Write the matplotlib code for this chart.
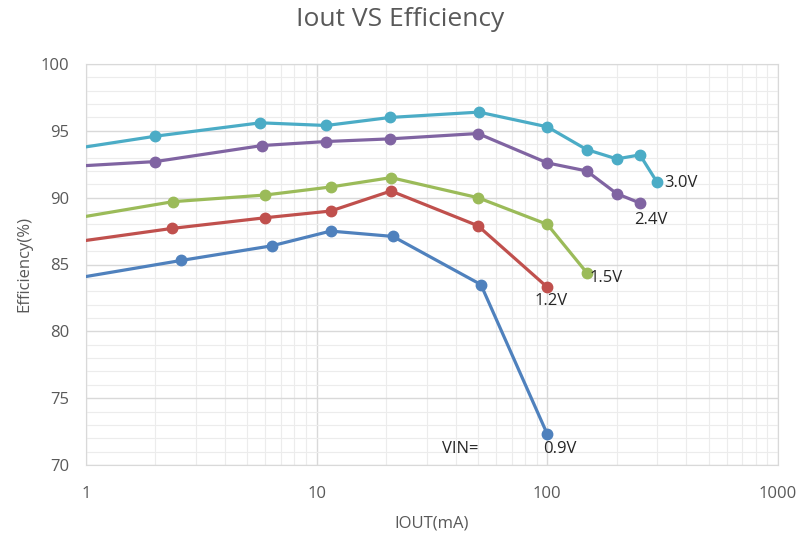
import numpy as np
import matplotlib.pyplot as plt
from matplotlib.ticker import LogLocator, MultipleLocator, NullFormatter

plt.rcParams['font.family'] = ['Open Sans', 'DejaVu Sans']

# data (first point of each series is the line start at the left edge)
iout_30 = [1, 2, 5.7, 11, 20.8, 50.5, 100, 148, 200, 252, 298]
eff_30 = [93.8, 94.6, 95.6, 95.4, 96.0, 96.4, 95.3, 93.6, 92.9, 93.2, 91.2]

iout_24 = [1, 2, 5.8, 11, 20.8, 50, 100, 148, 200, 252]
eff_24 = [92.4, 92.7, 93.9, 94.2, 94.4, 94.8, 92.6, 92.0, 90.3, 89.6]

iout_15 = [1, 2.38, 6.0, 11.5, 21, 50, 100, 148]
eff_15 = [88.6, 89.7, 90.2, 90.8, 91.5, 90.0, 88.0, 84.4]

iout_12 = [1, 2.36, 6.0, 11.5, 21, 50, 100]
eff_12 = [86.8, 87.7, 88.5, 89.0, 90.5, 87.9, 83.3]

iout_09 = [1, 2.58, 6.4, 11.5, 21.4, 51.5, 100]
eff_09 = [84.1, 85.3, 86.4, 87.5, 87.1, 83.5, 72.3]

series = [
    (iout_30, eff_30, '#4bacc6', '3.0V'),
    (iout_24, eff_24, '#8064a2', '2.4V'),
    (iout_15, eff_15, '#9bbb59', '1.5V'),
    (iout_12, eff_12, '#c0504d', '1.2V'),
    (iout_09, eff_09, '#4f81bd', '0.9V'),
]

fig = plt.figure(figsize=(8, 5.39), dpi=100)
ax = fig.add_axes([86/800, 1-465/539, (778-86)/800, (465-64)/539])

for x, y, c, lab in series:
    ax.plot(x, y, color=c, lw=2.3, marker='o', ms=7.5, markevery=slice(1, None),
            solid_joinstyle='round', zorder=3)

# end labels
txt = dict(fontsize=12, color='#262626')
ax.text(322, 91.1, '3.0V', ha='left', va='center', **txt)
ax.text(238, 88.3, '2.4V', ha='left', va='center', **txt)
ax.text(152, 84.0, '1.5V', ha='left', va='center', **txt)
ax.text(88, 82.3, '1.2V', ha='left', va='center', **txt)
ax.text(96, 71.2, '0.9V', ha='left', va='center', **txt)
ax.text(35, 71.2, 'VIN=', ha='left', va='center', **txt)

ax.set_xscale('log')
ax.set_xlim(1, 1000)
ax.set_ylim(70, 100)
ax.yaxis.set_major_locator(MultipleLocator(5))
ax.yaxis.set_minor_locator(MultipleLocator(1))
ax.xaxis.set_minor_locator(LogLocator(base=10, subs=np.arange(2, 10)))
ax.xaxis.set_minor_formatter(NullFormatter())
ax.set_xticks([1, 10, 100, 1000])
ax.set_xticklabels(['1', '10', '100', '1000'])

ax.grid(True, which='major', color='#d9d9d9', lw=1.0, zorder=0)
ax.grid(True, which='minor', color='#ececec', lw=0.8, zorder=0)
ax.set_axisbelow(True)
for s in ax.spines.values():
    s.set_color('#d9d9d9')
ax.tick_params(which='both', length=0, labelsize=12, colors='#595959')
ax.tick_params(axis='x', pad=15)
ax.tick_params(axis='y', pad=12)

fig.text(0.5, 1-20/539, 'Iout VS Efficiency', fontsize=19, color='#595959',
         ha='center', va='center')
ax.set_xlabel('IOUT(mA)', fontsize=12, color='#595959', labelpad=10)
ax.set_ylabel('Efficiency(%)', fontsize=12, color='#595959', labelpad=6)

fig.savefig('out.png', dpi=100)
